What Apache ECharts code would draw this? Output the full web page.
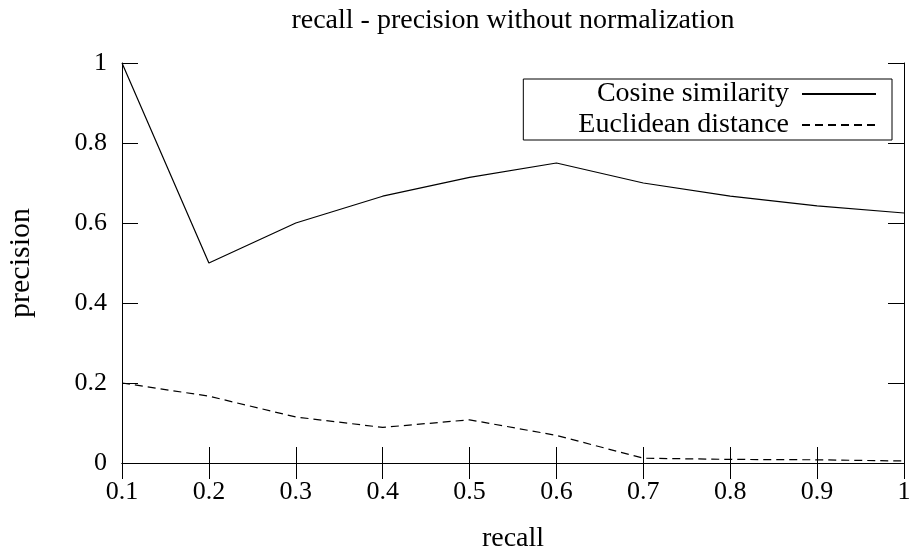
<!DOCTYPE html>
<html>
<head>
<meta charset="utf-8">
<script src="https://cdn.jsdelivr.net/npm/echarts@6/dist/echarts.min.js"></script>
<style>
  html, body { margin: 0; padding: 0; background: #fff; }
  #chart { width: 913px; height: 550px; }
</style>
</head>
<body>
<div id="chart"></div>
<script>
// data
var recall = [0.1, 0.2, 0.3, 0.4, 0.5, 0.6, 0.7, 0.8, 0.9, 1.0]
var cosine = [1.0, 0.5, 0.6, 0.667, 0.714, 0.75, 0.7, 0.667, 0.643, 0.625]
var euclid = [0.2, 0.167, 0.115, 0.089, 0.108, 0.069, 0.012, 0.009, 0.008, 0.005]

var font = 'Liberation Serif'

function pairs(ys) {
  return recall.map(function (x, i) { return [x, ys[i]] })
}
function fmt(v) {
  var r = Math.round(v * 10) / 10
  return r === 0 || r === 1 ? String(r) : r.toFixed(1)
}

var chart = echarts.init(document.getElementById('chart'))
var axisLine = { show: true, lineStyle: { color: '#000', width: 1 } }
var ticks = { show: true, inside: true, length: 16, lineStyle: { color: '#000', width: 1 } }
var labels = { color: '#000', fontFamily: font, fontSize: 26, formatter: fmt }

chart.setOption({
  animation: false,
  title: {
    text: 'recall - precision without normalization',
    left: 508, top: 2, textAlign: 'center',
    textStyle: { fontFamily: font, fontSize: 28, fontWeight: 'normal', color: '#000' }
  },
  grid: { left: 122, right: 9, top: 63, bottom: 87, outerBoundsMode: 'none' },
  legend: {
    right: 21, top: 79,
    orient: 'vertical',
    align: 'right',
    itemWidth: 74, itemHeight: 10, itemGap: 3,
    padding: [1, 15, 1, 55],
    borderColor: '#000', borderWidth: 1, borderRadius: 0,
    itemStyle: { opacity: 0 },
    textStyle: { fontFamily: font, fontSize: 28, color: '#000', padding: [0, 8, 0, 0] },
    data: ['Cosine similarity', 'Euclidean distance']
  },
  xAxis: [{
    type: 'value', min: 0.1, max: 1, interval: 0.1,
    name: 'recall', nameLocation: 'middle', nameGap: 62,
    nameTextStyle: { fontFamily: font, fontSize: 28, color: '#000' },
    axisLine: axisLine, axisTick: ticks,
    axisLabel: Object.assign({ margin: 16 }, labels),
    splitLine: { show: false }
  }, {
    type: 'value', min: 0.1, max: 1, interval: 0.1, position: 'top',
    axisLine: axisLine, axisTick: ticks, axisLabel: { show: false },
    splitLine: { show: false }
  }],
  yAxis: [{
    type: 'value', min: 0, max: 1, interval: 0.2,
    name: 'precision', nameLocation: 'middle', nameGap: 86, nameRotate: 90,
    nameTextStyle: { fontFamily: font, fontSize: 30, color: '#000' },
    axisLine: axisLine, axisTick: ticks,
    axisLabel: Object.assign({ margin: 15 }, labels),
    splitLine: { show: false }
  }, {
    type: 'value', min: 0, max: 1, interval: 0.2, position: 'right',
    axisLine: axisLine, axisTick: ticks, axisLabel: { show: false },
    splitLine: { show: false }
  }],
  series: [{
    name: 'Cosine similarity', type: 'line', data: pairs(cosine),
    symbol: 'none', lineStyle: { color: '#000', width: 1.2 }, itemStyle: { color: '#000' }
  }, {
    name: 'Euclidean distance', type: 'line', data: pairs(euclid),
    symbol: 'none', lineStyle: { color: '#000', width: 1.2, type: [8, 5] }, itemStyle: { color: '#000' }
  }]
})
</script>
</body>
</html>
